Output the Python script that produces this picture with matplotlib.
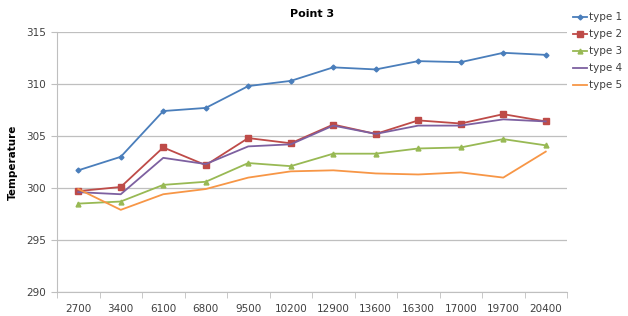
import numpy as np
import matplotlib.pyplot as plt

categories = ['2700', '3400', '6100', '6800', '9500', '10200', '12900',
              '13600', '16300', '17000', '19700', '20400']

type1 = [301.7, 303.0, 307.4, 307.7, 309.8, 310.3, 311.6, 311.4, 312.2, 312.1, 313.0, 312.8]
type2 = [299.7, 300.1, 303.9, 302.2, 304.8, 304.3, 306.1, 305.2, 306.5, 306.2, 307.1, 306.4]
type3 = [298.5, 298.7, 300.3, 300.6, 302.4, 302.1, 303.3, 303.3, 303.8, 303.9, 304.7, 304.1]
type4 = [299.6, 299.4, 302.9, 302.3, 304.0, 304.2, 306.0, 305.2, 306.0, 306.0, 306.6, 306.4]
type5 = [299.9, 297.9, 299.4, 299.9, 301.0, 301.6, 301.7, 301.4, 301.3, 301.5, 301.0, 303.5]

series = [
    ('type 1', type1, '#4A7EBB', 'D', 2.5),
    ('type 2', type2, '#BE4B48', 's', 4),
    ('type 3', type3, '#98B954', '^', 3.5),
    ('type 4', type4, '#7D60A0', None, 0),
    ('type 5', type5, '#F79646', None, 0),
]

fig = plt.figure(figsize=(6.28, 3.16), dpi=100)
ax = fig.add_axes([57/628, 1 - 292/316, 510/628, 260/316])

x = np.arange(len(categories))
for name, vals, col, mk, ms in series:
    ax.plot(x, vals, color=col, lw=1.3, marker=mk, ms=ms, label=name)

ax.set_xlim(-0.5, len(categories) - 0.5)
ax.set_ylim(290, 315)
ax.set_yticks([290, 295, 300, 305, 310, 315])
ax.set_xticks(x)
ax.set_xticklabels(categories)
ax.set_xticks(np.arange(-0.5, len(categories)), minor=True)
ax.tick_params(axis='x', which='major', length=0, pad=9)
ax.tick_params(axis='x', which='minor', length=4, color='#BFBFBF', direction='out')
ax.tick_params(axis='y', length=4, color='#BFBFBF', pad=4)
ax.tick_params(labelsize=7.5, labelcolor='#404040')
ax.yaxis.grid(True, color='#BFBFBF', lw=0.9)
ax.set_axisbelow(True)
for s in ['top', 'right']:
    ax.spines[s].set_visible(False)
for s in ['left', 'bottom']:
    ax.spines[s].set_color('#BFBFBF')

ax.set_ylabel('Temperature', fontsize=7.5, fontweight='bold', labelpad=6)
fig.text(312/628, 1 - 14/316, 'Point 3', ha='center', va='center',
         fontsize=8, fontweight='bold')

fig.legend(loc='upper left', bbox_to_anchor=(569/628, 1 - 8/316), frameon=False,
           fontsize=7.5, handlelength=1.3, handletextpad=0.2, labelspacing=0.68,
           borderaxespad=0, labelcolor='#404040')

fig.savefig('out.png', dpi=100)
